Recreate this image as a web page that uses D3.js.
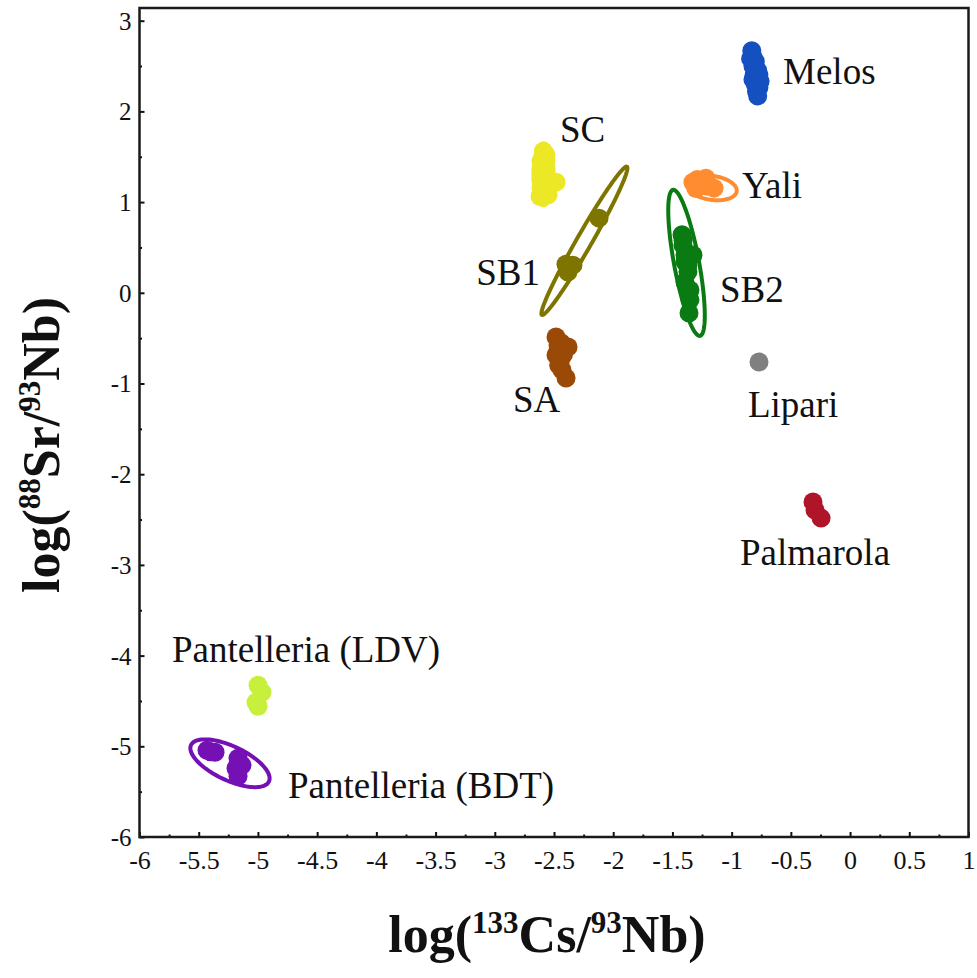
<!DOCTYPE html>
<html>
<head>
<meta charset="utf-8">
<script src="https://cdn.jsdelivr.net/npm/d3@7"></script>
<style>
  body { margin: 0; background: #fff; }
  svg text { font-family: "Liberation Serif", "DejaVu Serif", serif; }
</style>
</head>
<body>
<svg id="chart" width="977" height="978"></svg>
<script>
// groups and their sample points, [log(Cs/Nb), log(Sr/Nb)]
const groups = ['Melos', 'Yali', 'SC', 'SB1', 'SB2', 'SA', 'Lipari', 'Palmarola', 'Pantelleria (LDV)', 'Pantelleria (BDT)'];
const colors = ['#1550c0', '#ff8c30', '#ece826', '#7d7500', '#0a7a12', '#9a4a06', '#808080', '#b01428', '#c6f03c', '#7410b4'];

const melos = [[-0.83, 2.67], [-0.82, 2.60], [-0.80, 2.55], [-0.82, 2.50], [-0.78, 2.45], [-0.81, 2.40], [-0.78, 2.36],
    [-0.80, 2.30], [-0.77, 2.26], [-0.79, 2.22], [-0.78, 2.17], [-0.84, 2.58], [-0.77, 2.40], [-0.76, 2.33], [-0.82, 2.35], [-0.80, 2.45]];
const yali = [[-1.327, 1.220], [-1.268, 1.198], [-1.208, 1.176], [-1.149, 1.154], [-1.301, 1.150], [-1.217, 1.264], [-1.290, 1.250]];
const sc = [[-2.590, 1.560], [-2.568, 1.520], [-2.610, 1.450], [-2.568, 1.450], [-2.610, 1.350], [-2.568, 1.350],
    [-2.610, 1.250], [-2.568, 1.250], [-2.483, 1.220], [-2.610, 1.150], [-2.560, 1.150], [-2.618, 1.060], [-2.550, 1.080]];
const sb1 = [[-2.120, 0.823], [-2.399, 0.316], [-2.340, 0.305], [-2.382, 0.228]];
const sb2 = [[-1.419, 0.639], [-1.411, 0.528], [-1.326, 0.418], [-1.394, 0.418], [-1.394, 0.341], [-1.369, 0.231],
    [-1.394, 0.120], [-1.352, 0.032], [-1.352, -0.078], [-1.360, -0.222], [-1.410, 0.580], [-1.370, 0.300]];
const sa = [[-2.483, -0.487], [-2.466, -0.575], [-2.381, -0.597], [-2.483, -0.685], [-2.449, -0.763], [-2.432, -0.851],
    [-2.398, -0.939], [-2.440, -0.550], [-2.460, -0.800], [-2.420, -0.680]];
const lipari = [[-0.769, -0.763]];
const palmarola = [[-0.313, -2.307], [-0.296, -2.395], [-0.245, -2.484]];
const ldv = [[-4.999, -4.327], [-4.966, -4.404], [-5.016, -4.515], [-4.999, -4.558]];
const bdt = [[-5.430, -5.044], [-5.362, -5.066], [-5.168, -5.132], [-5.135, -5.209], [-5.185, -5.242], [-5.168, -5.331], [-5.400, -5.060]];

const points = [melos, yali, sc, sb1, sb2, sa, lipari, palmarola, ldv, bdt];

// confidence ellipses: group index, centre, major and minor semi-axis vectors (data units)
const ellipses = [
    { g: 1, c: [-1.166, 1.157], u: [0.209, -0.039], v: [-0.014, -0.131] },
    { g: 2, c: [-2.589, 1.306], u: [0, 0.342], v: [0.084, 0] },
    { g: 3, c: [-2.243, 0.573], u: [0.359, 0.817], v: [0.055, -0.041] },
    { g: 4, c: [-1.381, 0.330], u: [-0.114, 0.805], v: [0.104, 0.024] },
    { g: 9, c: [-5.236, -5.187], u: [0.329, -0.201], v: [-0.061, -0.170] }
];

// label anchors (data units) per group
const labelAt = [[-0.566, 2.30], [-0.913, 1.044], [-2.449, 1.662], [-2.618, 0.084], [-1.098, -0.104], [-2.846, -1.318], [-0.862, -1.373], [-0.929, -3.006], [-5.726, -4.076], [-4.746, -5.566]];
const labelAnchor = ['start', 'start', 'start', 'end', 'start', 'start', 'start', 'start', 'start', 'start'];

const xMajor = d3.range(-6, 1.01, 0.5);
const xMinor = d3.range(-5.75, 1, 0.5);
const yMajor = d3.range(-6, 3.01, 1);
const yMinor = d3.range(-5.5, 3, 1);

const svg = d3.select('#chart');
const x = d3.scaleLinear().domain([-6, 1]).range([139.5, 968.5]);
const y = d3.scaleLinear().domain([-6, 3.14]).range([837, 8]);

const fmt = d => String(+d.toFixed(2));

// ellipses
const ellLine = d3.line().curve(d3.curveLinearClosed);
ellipses.forEach(e => {
    let pts = d3.range(0, 2 * Math.PI, Math.PI / 60).map(t => [
        x(e.c[0] + Math.cos(t) * e.u[0] + Math.sin(t) * e.v[0]),
        y(e.c[1] + Math.cos(t) * e.u[1] + Math.sin(t) * e.v[1])
    ]);
    svg.append('path')
        .attr('d', ellLine(pts))
        .attr('fill', 'none')
        .attr('stroke', colors[e.g])
        .attr('stroke-width', 4);
});

// points
points.forEach((pts, i) => {
    svg.append('g').selectAll('circle').data(pts).join('circle')
        .attr('cx', d => x(d[0]))
        .attr('cy', d => y(d[1]))
        .attr('r', 9.5)
        .attr('fill', colors[i]);
});

// group labels
groups.forEach((name, i) => {
    svg.append('text')
        .attr('x', x(labelAt[i][0]))
        .attr('y', y(labelAt[i][1]))
        .attr('text-anchor', labelAnchor[i])
        .attr('font-size', 37)
        .attr('fill', '#111')
        .text(name);
});

// axes
let xAxis = svg.append('g').attr('transform', 'translate(0,837)')
    .call(d3.axisBottom(x).tickValues(xMajor).tickSize(-5).tickSizeOuter(0).tickFormat(fmt));
svg.append('g').attr('transform', 'translate(0,837)')
    .call(d3.axisBottom(x).tickValues(xMinor).tickSize(-2.5).tickSizeOuter(0).tickFormat(''));
let yAxis = svg.append('g').attr('transform', 'translate(139.5,0)')
    .call(d3.axisLeft(y).tickValues(yMajor).tickSize(-5).tickSizeOuter(0).tickFormat(fmt));
svg.append('g').attr('transform', 'translate(139.5,0)')
    .call(d3.axisLeft(y).tickValues(yMinor).tickSize(-2.5).tickSizeOuter(0).tickFormat(''));

svg.selectAll('.domain').remove();
svg.selectAll('.tick line').attr('stroke', '#111').attr('stroke-width', 2);
xAxis.selectAll('text').attr('y', 32).attr('dy', null)
    .attr('font-size', 26).attr('font-family', '"Liberation Serif", serif').attr('fill', '#111');
yAxis.selectAll('text').attr('x', -8).attr('dy', '0.34em')
    .attr('font-size', 25).attr('font-family', '"Liberation Serif", serif').attr('fill', '#111');

// frame
svg.append('rect')
    .attr('x', x(-6)).attr('y', y(3.14))
    .attr('width', x(1) - x(-6)).attr('height', y(-6) - y(3.14))
    .attr('fill', 'none').attr('stroke', '#1a1a1a').attr('stroke-width', 2.5);

// axis titles
function title(t, parts) {
    parts.forEach(p => {
        let s = t.append('tspan').text(p.text);
        if (p.sup) s.attr('font-size', 31).attr('dy', -19);
        else if (p.after) s.attr('dy', 19);
    });
}
let xt = svg.append('text')
    .attr('x', 547).attr('y', 952)
    .attr('text-anchor', 'middle')
    .attr('font-size', 52).attr('font-weight', 'bold').attr('fill', '#111');
title(xt, [{ text: 'log(' }, { text: '133', sup: true }, { text: 'Cs/', after: true }, { text: '93', sup: true }, { text: 'Nb)', after: true }]);

let yt = svg.append('text')
    .attr('transform', 'translate(59,445) rotate(-90)')
    .attr('text-anchor', 'middle')
    .attr('font-size', 52).attr('font-weight', 'bold').attr('fill', '#111');
title(yt, [{ text: 'log(' }, { text: '88', sup: true }, { text: 'Sr/', after: true }, { text: '93', sup: true }, { text: 'Nb)', after: true }]);
</script>
</body>
</html>
